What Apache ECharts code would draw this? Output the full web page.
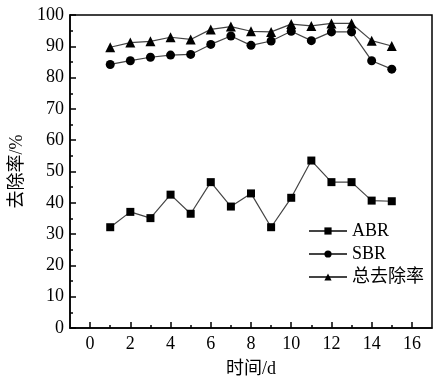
<!DOCTYPE html>
<html><head><meta charset="utf-8">
<script src="https://cdn.jsdelivr.net/npm/echarts@6/dist/echarts.min.js"></script>
<style>html,body{margin:0;padding:0;background:#fff}#c{width:442px;height:383px}</style>
</head><body><div id="c"></div>
<script>
var days = [1,2,3,4,5,6,7,8,9,10,11,12,13,14,15];
var abr = [32.2, 37.1, 35.1, 42.6, 36.5, 46.6, 38.8, 43.0, 32.2, 41.6, 53.5, 46.6, 46.6, 40.7, 40.5];
var sbr = [84.2, 85.4, 86.5, 87.2, 87.4, 90.6, 93.3, 90.3, 91.7, 94.8, 91.8, 94.6, 94.6, 85.4, 82.7];
var total = [89.7, 91.2, 91.6, 92.9, 92.2, 95.4, 96.3, 94.8, 94.6, 97.1, 96.5, 97.3, 97.3, 91.8, 90.1];
var xMajor = [0,2,4,6,8,10,12,14,16];
var xMinor = [1,3,5,7,9,11,13,15];
var seriesNames = ['ABR','SBR','总去除率'];

var font = "'Liberation Serif','Noto Sans CJK SC',serif";
function pairs(v){ return days.map(function(d,i){ return [d, v[i]]; }); }
var chart = echarts.init(document.getElementById('c'));
var lineStyle = {color:'#444', width:1.2};
function mk(name, data, symbol, size){
  return {name:name, type:'line', data:pairs(data), symbol:symbol, symbolSize:size,
    itemStyle:{color:'#000'}, lineStyle:lineStyle, animation:false};
}
chart.setOption({
  animation:false,
  grid:{left:70, right:10, top:15, bottom:55, show:true, borderColor:'#000', borderWidth:1.5},
  legend:{orient:'vertical', left:303, top:217, itemWidth:38, itemHeight:9, itemGap:5,
    textStyle:{fontFamily:font, fontSize:18, color:'#000'},
    data:seriesNames},
  xAxis:[{type:'value', min:-1, max:17, name:'时间/d', nameLocation:'middle', nameGap:32,
    nameTextStyle:{fontFamily:font, fontSize:18, color:'#000'},
    axisLine:{onZero:false, lineStyle:{color:'#000', width:1.5}},
    axisTick:{inside:true, length:6, customValues:xMajor, lineStyle:{color:'#000', width:1.5}},
    axisLabel:{customValues:xMajor, fontFamily:font, fontSize:18, color:'#000', margin:7},
    splitLine:{show:false}},
   {type:'value', min:-1, max:17, position:'bottom',
    axisLine:{show:false, onZero:false},
    axisTick:{inside:true, length:3, customValues:xMinor, lineStyle:{color:'#000', width:1.5}},
    axisLabel:{show:false}, splitLine:{show:false}}],
  yAxis:{type:'value', min:0, max:100, interval:10, name:'去除率/%', nameLocation:'middle', nameGap:39,
    nameTextStyle:{fontFamily:font, fontSize:18, color:'#000'},
    axisLine:{onZero:false, lineStyle:{color:'#000', width:1.5}},
    axisTick:{inside:true, length:6, lineStyle:{color:'#000', width:1.5}},
    minorTick:{show:true, splitNumber:2, length:3, lineStyle:{color:'#000', width:1.5}},
    axisLabel:{fontFamily:font, fontSize:18, color:'#000', margin:6},
    splitLine:{show:false}},
  series:[mk(seriesNames[0], abr, 'rect', 8), mk(seriesNames[1], sbr, 'circle', 9), mk(seriesNames[2], total, 'triangle', 10)]
});
</script></body></html>
